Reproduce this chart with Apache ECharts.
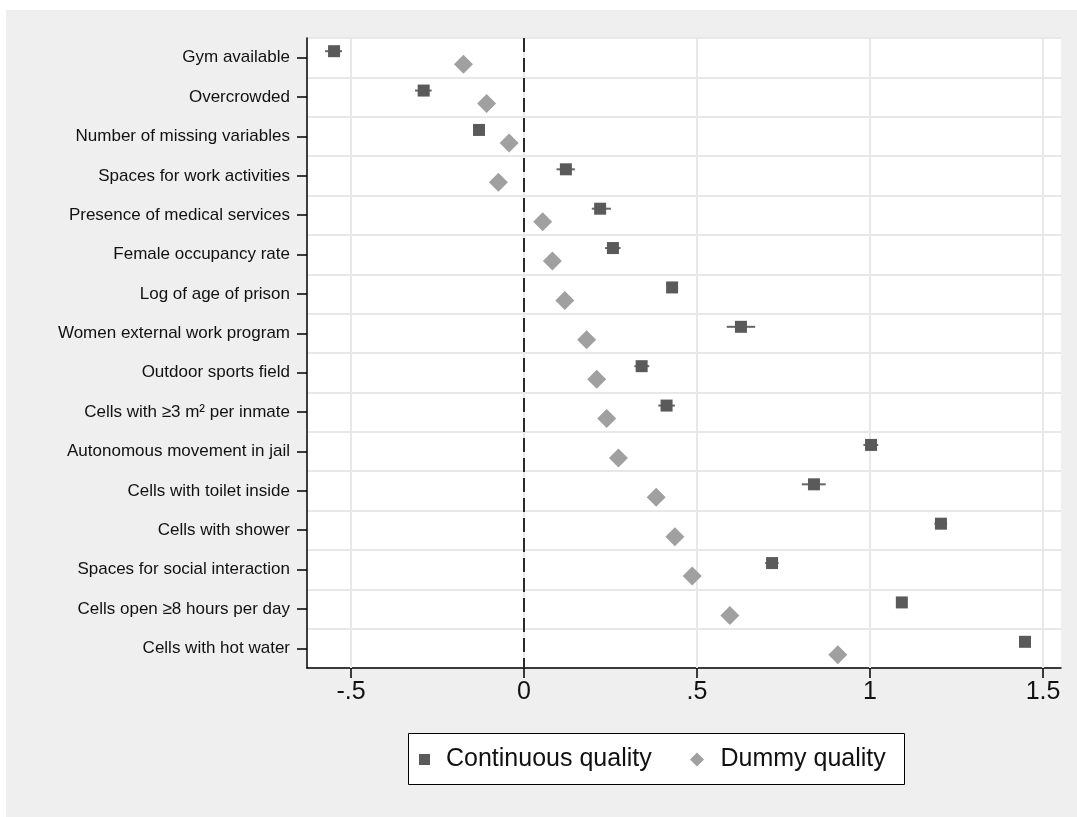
<!DOCTYPE html>
<html>
<head>
<meta charset="utf-8">
<script src="https://cdn.jsdelivr.net/npm/echarts@6/dist/echarts.min.js"></script>
<style>
  html, body { margin: 0; padding: 0; background: #ffffff; }
  #chart { position: absolute; left: 6px; top: 10px; width: 1071px; height: 807px; }
</style>
</head>
<body>
<div id="chart"></div>
<script>
// ---- data ----
const categories = [
  'Gym available',
  'Overcrowded',
  'Number of missing variables',
  'Spaces for work activities',
  'Presence of medical services',
  'Female occupancy rate',
  'Log of age of prison',
  'Women external work program',
  'Outdoor sports field',
  'Cells with \u22653 m\u00b2 per inmate',
  'Autonomous movement in jail',
  'Cells with toilet inside',
  'Cells with shower',
  'Spaces for social interaction',
  'Cells open \u22658 hours per day',
  'Cells with hot water'
];
const contCoef = [-0.549, -0.290, -0.130, 0.121, 0.220, 0.257, 0.428, 0.627, 0.340, 0.412, 1.003, 0.838, 1.205, 0.717, 1.092, 1.448];
const contLo   = [-0.575, -0.315, -0.138, 0.094, 0.196, 0.234, 0.421, 0.586, 0.319, 0.388, 0.981, 0.803, 1.186, 0.697, 1.085, 1.441];
const contHi   = [-0.526, -0.267, -0.122, 0.147, 0.251, 0.279, 0.435, 0.668, 0.362, 0.436, 1.024, 0.872, 1.223, 0.736, 1.099, 1.455];
const dummyCoef = [-0.175, -0.108, -0.043, -0.074, 0.054, 0.082, 0.118, 0.181, 0.210, 0.239, 0.273, 0.382, 0.436, 0.486, 0.595, 0.907];
const xTicks = [-0.5, 0, 0.5, 1, 1.5];
const xTickLabels = ['-.5', '0', '.5', '1', '1.5'];
const seriesNames = ['Continuous quality', 'Dummy quality'];

// ---- styles ----
const FONT = '"Liberation Sans", Arial, Helvetica, sans-serif';
const C_CONT = '#5a5a5a';
const C_DUM = '#a0a0a0';
const C_GRID = '#e8e8e8';

const chart = echarts.init(document.getElementById('chart'), null, { renderer: 'canvas' });

const contData = categories.map((c, i) => [contCoef[i], c]);
const dumData = categories.map((c, i) => [dummyCoef[i], c]);
const ciData = categories.map((c, i) => [contLo[i], contHi[i], c]);

const option = {
  backgroundColor: '#efefef',
  animation: false,
  textStyle: { fontFamily: FONT },
  grid: {
    left: 301, top: 28, right: 16, bottom: 149,
    show: true, backgroundColor: '#ffffff', borderWidth: 0
  },
  xAxis: {
    type: 'value',
    min: -0.6272,
    max: 1.5520,
    axisLine: { show: true, onZero: false, lineStyle: { color: '#000', width: 1.5 } },
    axisTick: { show: true, length: 10, customValues: xTicks, lineStyle: { color: '#000', width: 1.5 } },
    axisLabel: {
      show: true, customValues: xTicks, margin: 12,
      fontSize: 25, color: '#111', fontFamily: FONT,
      formatter: function (v) {
        const k = xTicks.findIndex(t => Math.abs(t - v) < 1e-9);
        return k >= 0 ? xTickLabels[k] : '';
      }
    },
    splitLine: { show: false }
  },
  yAxis: {
    type: 'category',
    data: categories,
    inverse: true,
    boundaryGap: true,
    axisLine: { show: true, onZero: false, lineStyle: { color: '#000', width: 1.5 } },
    axisTick: { show: true, alignWithLabel: true, length: 10, lineStyle: { color: '#000', width: 1.5 } },
    axisLabel: { show: true, margin: 17, fontSize: 17, color: '#111', fontFamily: FONT },
    splitLine: { show: true, lineStyle: { color: C_GRID, width: 2 } }
  },
  legend: [
    {
      data: [{ name: seriesNames[0], icon: 'rect' }],
      left: 413, top: 737, padding: 0,
      itemWidth: 11, itemHeight: 11,
      selectedMode: false,
      textStyle: { fontSize: 25, color: '#111', fontFamily: FONT, padding: [0, 0, 0, 11] }
    },
    {
      data: [{ name: seriesNames[1], icon: 'diamond' }],
      left: 684, top: 737, padding: 0,
      itemWidth: 14, itemHeight: 14,
      selectedMode: false,
      textStyle: { fontSize: 25, color: '#111', fontFamily: FONT, padding: [0, 0, 0, 11.5] }
    }
  ],
  graphic: [
    {
      type: 'rect', left: 402, top: 723, z: 0,
      shape: { width: 496, height: 51 },
      style: { fill: '#ffffff', stroke: '#000000', lineWidth: 1 }
    }
  ],
  series: [
    {
      name: 'grid-x',
      type: 'scatter',
      data: [],
      silent: true,
      z: 1,
      markLine: {
        z: 1,
        silent: true, symbol: 'none', animation: false,
        label: { show: false },
        lineStyle: { color: C_GRID, width: 2, type: 'solid' },
        data: xTicks.map(v => ({ xAxis: v }))
      }
    },
    {
      name: 'zero-line',
      type: 'scatter',
      data: [],
      silent: true,
      z: 1,
      markLine: {
        z: 2,
        silent: true, symbol: 'none', animation: false,
        label: { show: false },
        lineStyle: { color: '#2a2a2a', width: 2, type: [14, 6] },
        data: [{ xAxis: 0 }]
      }
    },
    {
      name: 'ci',
      type: 'custom',
      silent: true,
      data: ciData,
      encode: { x: [0, 1], y: 2 },
      renderItem: function (params, api) {
        const p1 = api.coord([api.value(0), api.value(2)]);
        const p2 = api.coord([api.value(1), api.value(2)]);
        return {
          type: 'line',
          shape: { x1: p1[0], y1: p1[1] - 6.5, x2: p2[0], y2: p2[1] - 6.5 },
          style: { stroke: '#666666', lineWidth: 2 }
        };
      },
      z: 3
    },
    {
      name: seriesNames[0],
      type: 'scatter',
      data: contData,
      symbol: 'rect',
      symbolSize: 12,
      symbolOffset: [0, -6.5],
      itemStyle: { color: C_CONT, opacity: 1 },
      z: 4
    },
    {
      name: seriesNames[1],
      type: 'scatter',
      data: dumData,
      symbol: 'diamond',
      symbolSize: 19,
      symbolOffset: [0, 6.5],
      itemStyle: { color: C_DUM, opacity: 1 },
      z: 4
    }
  ]
};
chart.setOption(option);
</script>
</body>
</html>
